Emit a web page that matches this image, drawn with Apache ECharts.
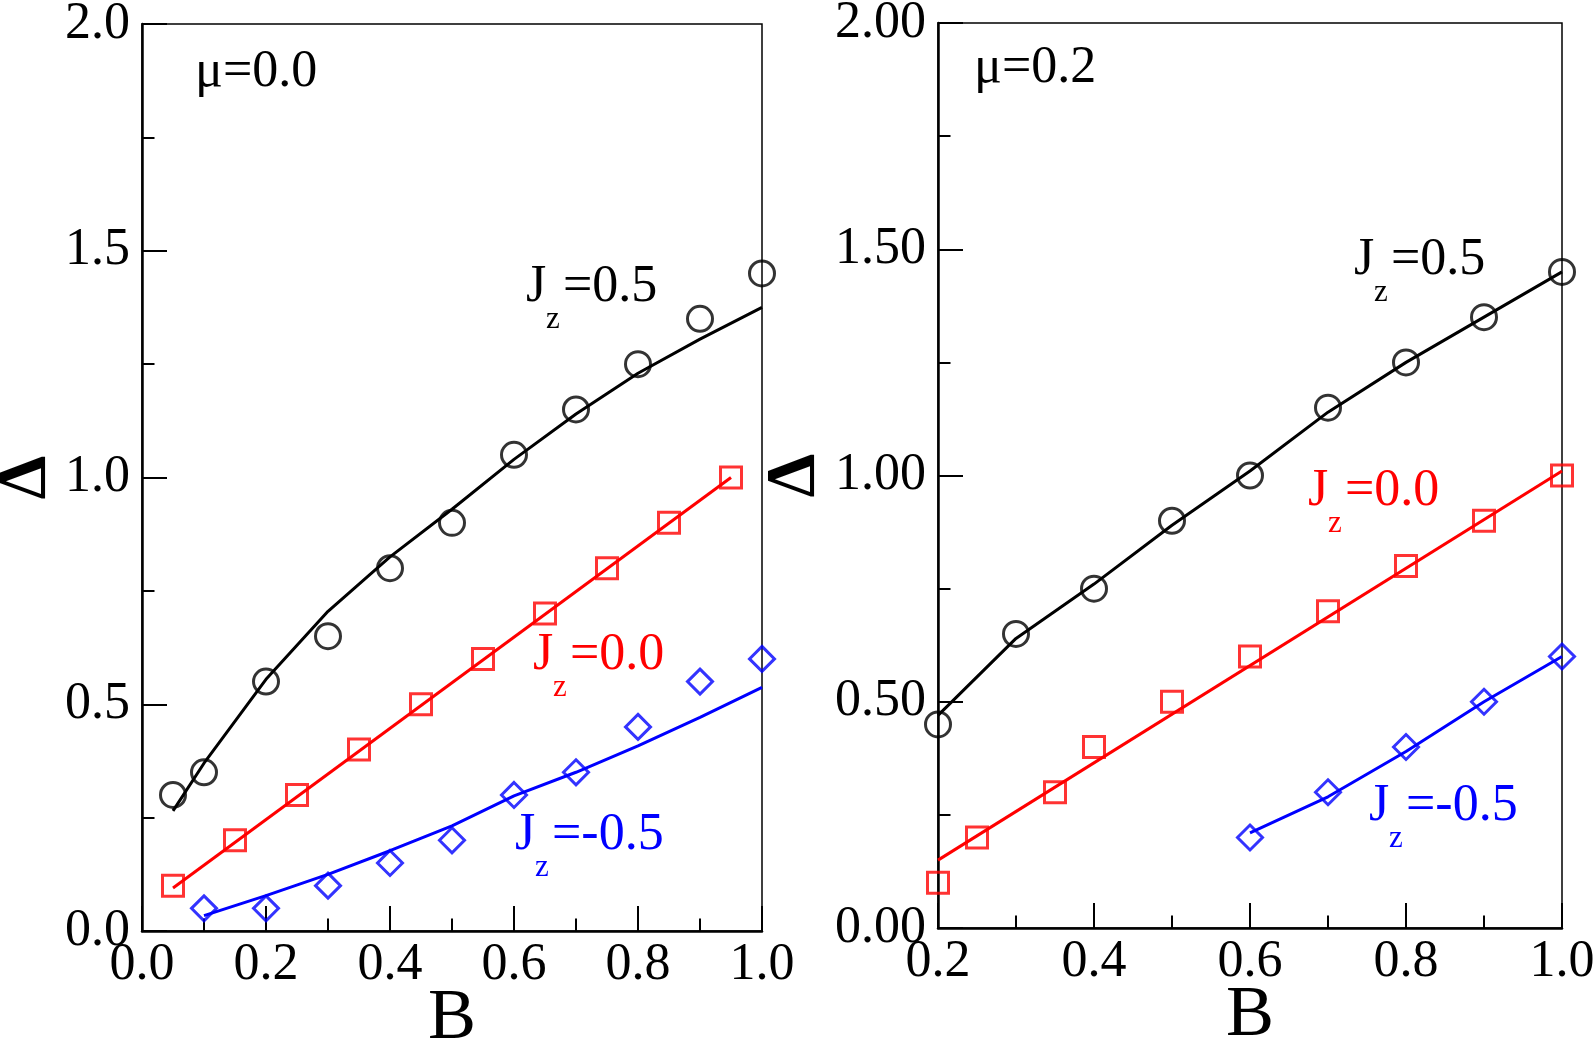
<!DOCTYPE html>
<html>
<head>
<meta charset="utf-8">
<script src="https://cdn.jsdelivr.net/npm/echarts@6/dist/echarts.min.js"></script>
<style>
  html, body { margin: 0; padding: 0; background: #fff; }
  #chart { width: 1596px; height: 1046px; }
</style>
</head>
<body>
<div id="chart"></div>
<script>
// 左图 mu=0.0 （点 + 拟合线）
const leftCircles = [[0.05, 0.30], [0.1, 0.35], [0.2, 0.55], [0.3, 0.65], [0.4, 0.80], [0.5, 0.90], [0.6, 1.05], [0.7, 1.15], [0.8, 1.25], [0.9, 1.35], [1.0, 1.45]]
const leftCircleLine = [[0.05, 0.265], [0.1, 0.37], [0.2, 0.555], [0.3, 0.705], [0.4, 0.825], [0.5, 0.93], [0.6, 1.04], [0.7, 1.14], [0.8, 1.23], [0.9, 1.305], [1.0, 1.375]]
const leftSquares = [[0.05, 0.10], [0.15, 0.20], [0.25, 0.30], [0.35, 0.40], [0.45, 0.50], [0.55, 0.60], [0.65, 0.70], [0.75, 0.80], [0.85, 0.90], [0.95, 1.00]]
const leftSquareLine = [[0.05, 0.095], [0.95, 1.0]]
const leftDiamonds = [[0.1, 0.05], [0.2, 0.05], [0.3, 0.10], [0.4, 0.15], [0.5, 0.20], [0.6, 0.30], [0.7, 0.35], [0.8, 0.45], [0.9, 0.55], [1.0, 0.60]]
const leftDiamondLine = [[0.1, 0.034], [0.2, 0.078], [0.3, 0.125], [0.4, 0.177], [0.5, 0.232], [0.6, 0.298], [0.7, 0.35], [0.8, 0.408], [0.9, 0.471], [1.0, 0.537]]

// 右图 mu=0.2
const rightCircles = [[0.2, 0.45], [0.3, 0.65], [0.4, 0.75], [0.5, 0.90], [0.6, 1.00], [0.7, 1.15], [0.8, 1.25], [0.9, 1.35], [1.0, 1.45]]
const rightCircleLine = [[0.2, 0.47], [0.3, 0.64], [0.4, 0.76], [0.5, 0.89], [0.6, 1.01], [0.7, 1.14], [0.8, 1.25], [0.9, 1.35], [1.0, 1.45]]
const rightSquares = [[0.2, 0.10], [0.25, 0.20], [0.35, 0.30], [0.4, 0.40], [0.5, 0.50], [0.6, 0.60], [0.7, 0.70], [0.8, 0.80], [0.9, 0.90], [1.0, 1.00]]
const rightSquareLine = [[0.2, 0.15], [1.0, 1.01]]
const rightDiamonds = [[0.6, 0.20], [0.7, 0.30], [0.8, 0.40], [0.9, 0.50], [1.0, 0.60]]
const rightDiamondLine = [[0.6, 0.21], [0.7, 0.29], [0.8, 0.39], [0.9, 0.50], [1.0, 0.60]]

const panelLabels = ['μ=0.0', 'μ=0.2']
const jzValues = ['=0.5', '=0.0', '=-0.5']

const FONT = "'Liberation Serif', 'Times New Roman', serif"
const BLACK = '#000000', RED = '#ff0000', BLUE = '#0000ff'

function xAxisCfg (gridIndex, min) {
  return {
    gridIndex: gridIndex,
    type: 'value',
    min: min,
    max: 1.0,
    interval: 0.2,
    name: 'B',
    nameLocation: 'middle',
    nameGap: 52,
    nameMoveOverlap: false,
    nameTextStyle: { fontFamily: FONT, fontSize: 72, color: BLACK },
    axisLine: { show: true, onZero: false, lineStyle: { color: BLACK, width: 2.5 } },
    axisTick: { show: true, inside: true, length: 25, lineStyle: { color: BLACK, width: 2 } },
    minorTick: { show: true, splitNumber: 2, length: 12.5, lineStyle: { color: BLACK, width: 2 } },
    splitLine: { show: false },
    axisLabel: { fontFamily: FONT, fontSize: 52, color: BLACK, margin: 8, formatter: v => v.toFixed(1) }
  }
}

function yAxisCfg (gridIndex, digits, gap) {
  return {
    gridIndex: gridIndex,
    type: 'value',
    min: 0,
    max: 2,
    interval: 0.5,
    name: 'Δ',
    nameLocation: 'middle',
    nameRotate: 90,
    nameGap: gap,
    nameMoveOverlap: false,
    nameTextStyle: { fontFamily: FONT, fontSize: 70, fontWeight: 'bold', color: BLACK },
    axisLine: { show: true, onZero: false, lineStyle: { color: BLACK, width: 2.5 } },
    axisTick: { show: true, inside: true, length: 25, lineStyle: { color: BLACK, width: 2 } },
    minorTick: { show: true, splitNumber: 2, length: 12.5, lineStyle: { color: BLACK, width: 2 } },
    splitLine: { show: false },
    axisLabel: { fontFamily: FONT, fontSize: 52, color: BLACK, margin: 12, formatter: v => v.toFixed(digits) }
  }
}

function lineSeries (idx, data, color) {
  return {
    type: 'line', xAxisIndex: idx, yAxisIndex: idx, data: data,
    showSymbol: false, symbol: 'none', silent: true, z: 2,
    lineStyle: { color: color, width: 3 }
  }
}

function markSeries (idx, data, color, symbol, size) {
  return {
    type: 'scatter', xAxisIndex: idx, yAxisIndex: idx, data: data,
    symbol: symbol, symbolSize: size, clip: false, silent: true, z: 3,
    itemStyle: { color: 'rgba(0,0,0,0)', borderColor: color, borderWidth: 3 }
  }
}

// J_z 标签：J、下标 z、数值分开放
function jzLabel (x, y, value, color) {
  return [
    { type: 'text', x: x, y: y, style: { text: 'J', font: '52px ' + FONT, fill: color, verticalAlign: 'middle' } },
    { type: 'text', x: x + 20, y: y + 33, style: { text: 'z', font: '31px ' + FONT, fill: color, verticalAlign: 'middle' } },
    { type: 'text', x: x + 37, y: y, style: { text: value, font: '52px ' + FONT, fill: color, verticalAlign: 'middle' } }
  ]
}

const graphics = [
  { type: 'text', x: 195, y: 72, style: { text: panelLabels[0], font: '52px ' + FONT, fill: BLACK, verticalAlign: 'middle' } },
  { type: 'text', x: 974, y: 68, style: { text: panelLabels[1], font: '52px ' + FONT, fill: BLACK, verticalAlign: 'middle' } }
].concat(
  jzLabel(526, 287, jzValues[0], BLACK),
  jzLabel(533, 655, jzValues[1], RED),
  jzLabel(515, 835, jzValues[2], BLUE),
  jzLabel(1354, 260, jzValues[0], BLACK),
  jzLabel(1308, 491, jzValues[1], RED),
  jzLabel(1369, 806, jzValues[2], BLUE)
)

const chart = echarts.init(document.getElementById('chart'))
const option = {
  backgroundColor: '#ffffff',
  animation: false,
  grid: [
    { left: 142, top: 24, width: 620, height: 907, show: true, borderColor: BLACK, borderWidth: 1.5, containLabel: false, outerBoundsMode: 'none' },
    { left: 938, top: 23, width: 624, height: 905, show: true, borderColor: BLACK, borderWidth: 1.5, containLabel: false, outerBoundsMode: 'none' }
  ],
  xAxis: [xAxisCfg(0, 0), xAxisCfg(1, 0.2)],
  yAxis: [yAxisCfg(0, 1, 80), yAxisCfg(1, 2, 107)],
  series: [
    lineSeries(0, leftCircleLine, BLACK),
    lineSeries(0, leftSquareLine, RED),
    lineSeries(0, leftDiamondLine, BLUE),
    markSeries(0, leftCircles, BLACK, 'circle', 25),
    markSeries(0, leftSquares, RED, 'rect', 21),
    markSeries(0, leftDiamonds, BLUE, 'diamond', 25),
    lineSeries(1, rightCircleLine, BLACK),
    lineSeries(1, rightSquareLine, RED),
    lineSeries(1, rightDiamondLine, BLUE),
    markSeries(1, rightCircles, BLACK, 'circle', 25),
    markSeries(1, rightSquares, RED, 'rect', 21),
    markSeries(1, rightDiamonds, BLUE, 'diamond', 25)
  ],
  graphic: graphics
}
chart.setOption(option)
</script>
</body>
</html>
